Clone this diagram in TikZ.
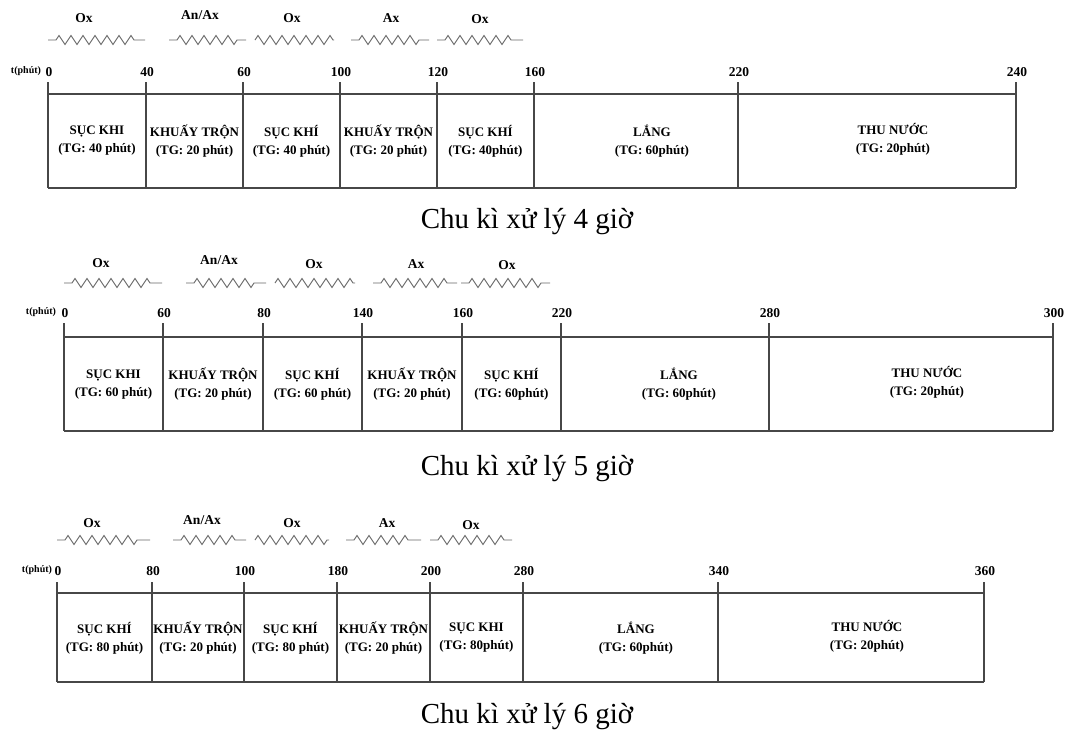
\documentclass[tikz,border=0pt]{standalone}
\usepackage{fontspec}
\setmainfont{Liberation Serif}
\usetikzlibrary{decorations.pathmorphing}
\tikzset{
  frame/.style={draw=black!72, line width=1.7pt},
  ticklbl/.style={font=\bfseries\fontsize{13.5}{14}\selectfont, inner sep=0pt},
  tlbl/.style={font=\bfseries\fontsize{10}{11}\selectfont, inner sep=0pt},
  boxtxt/.style={font=\bfseries\fontsize{13}{18}\selectfont, align=center, inner sep=0pt},
  zlbl/.style={font=\bfseries\fontsize{13.5}{14}\selectfont, inner sep=0pt},
  caption/.style={font=\fontsize{29}{32}\selectfont, inner sep=0pt},
  zz/.style={draw=black!60, line width=0.9pt, decorate,
    decoration={zigzag, segment length=12pt, amplitude=4.5pt, pre length=#1, post length=#1}},
  zz/.default=0pt
}
\begin{document}
\begin{tikzpicture}[x=1pt,y=-1pt]
\useasboundingbox (0,0) rectangle (1066,734);

% ================= Panel 1 =================
\foreach \x/\t [count=\i] in {48/0,146/40,243/60,340/100,437/120,534/160,738/220,1016/240} {
  \coordinate (pa\i) at (\x,82);
  \coordinate (pb\i) at (\x,188);
  \draw[frame] (pa\i) -- (pb\i);
  \node[ticklbl] (pl\i) at (\x+1,72) {\t};
}
\coordinate (pA) at (48,94); \coordinate (pB) at (1016,94);
\draw[frame] (pA) -- (pB);
\draw[frame] (pb1) -- (pb8);
\node[tlbl] (pt) at (26,71) {t(phút)};
\node[boxtxt] (pc1) at (97,141) {SỤC KHI\\(TG: 40 phút)};
\node[boxtxt] (pc2) at (194.5,141) {KHUẤY TRỘN\\(TG: 20 phút)};
\node[boxtxt] (pc3) at (291.5,141) {SỤC KHÍ\\(TG: 40 phút)};
\node[boxtxt] (pc4) at (388.5,141) {KHUẤY TRỘN\\(TG: 20 phút)};
\node[boxtxt] (pc5) at (485.5,141) {SỤC KHÍ\\(TG: 40phút)};
\node[boxtxt] (pc6) at (652,141) {LẮNG\\(TG: 60phút)};
\node[boxtxt] (pc7) at (893,139) {THU NƯỚC\\(TG: 20phút)};
\coordinate (pz1a) at (48,40);  \coordinate (pz1b) at (145,40);
\coordinate (pz2a) at (169,40); \coordinate (pz2b) at (246,40);
\coordinate (pz3a) at (255,40); \coordinate (pz3b) at (334,40);
\coordinate (pz4a) at (351,40); \coordinate (pz4b) at (429,40);
\coordinate (pz5a) at (437,40); \coordinate (pz5b) at (523,40);
\draw[zz=8pt] (pz1a) -- (pz1b);
\draw[zz=8pt] (pz2a) -- (pz2b);
\draw[zz] (pz3a) -- (pz3b);
\draw[zz=8pt] (pz4a) -- (pz4b);
\draw[zz=8pt] (pz5a) -- (pz5b);
\node[zlbl] (pk1) at (84,18) {Ox};
\node[zlbl] (pk2) at (200,15) {An/Ax};
\node[zlbl] (pk3) at (292,18) {Ox};
\node[zlbl] (pk4) at (391,18) {Ax};
\node[zlbl] (pk5) at (480,19) {Ox};
\node[caption] (pcap) at (527,222) {Chu kì xử lý 4 giờ};

% ================= Panel 2 =================
\foreach \x/\t [count=\i] in {64/0,163/60,263/80,362/140,462/160,561/220,769/280,1053/300} {
  \coordinate (qa\i) at (\x,323);
  \coordinate (qb\i) at (\x,431);
  \draw[frame] (qa\i) -- (qb\i);
  \node[ticklbl] (ql\i) at (\x+1,313) {\t};
}
\coordinate (qA) at (64,337); \coordinate (qB) at (1053,337);
\draw[frame] (qA) -- (qB);
\draw[frame] (qb1) -- (qb8);
\node[tlbl] (qt) at (41,312) {t(phút)};
\node[boxtxt] (qc1) at (113.5,384.5) {SỤC KHI\\(TG: 60 phút)};
\node[boxtxt] (qc2) at (213,384.5) {KHUẤY TRỘN\\(TG: 20 phút)};
\node[boxtxt] (qc3) at (312.5,384.5) {SỤC KHÍ\\(TG: 60 phút)};
\node[boxtxt] (qc4) at (412,384.5) {KHUẤY TRỘN\\(TG: 20 phút)};
\node[boxtxt] (qc5) at (511.5,384.5) {SỤC KHÍ\\(TG: 60phút)};
\node[boxtxt] (qc6) at (679,384.5) {LẮNG\\(TG: 60phút)};
\node[boxtxt] (qc7) at (927,382.5) {THU NƯỚC\\(TG: 20phút)};
\coordinate (qz1a) at (64,283);  \coordinate (qz1b) at (162,283);
\coordinate (qz2a) at (186,283); \coordinate (qz2b) at (266,283);
\coordinate (qz3a) at (275,283); \coordinate (qz3b) at (355,283);
\coordinate (qz4a) at (373,283); \coordinate (qz4b) at (457,283);
\coordinate (qz5a) at (461,283); \coordinate (qz5b) at (550,283);
\draw[zz=8pt] (qz1a) -- (qz1b);
\draw[zz=8pt] (qz2a) -- (qz2b);
\draw[zz] (qz3a) -- (qz3b);
\draw[zz=8pt] (qz4a) -- (qz4b);
\draw[zz=8pt] (qz5a) -- (qz5b);
\node[zlbl] (qk1) at (101,263) {Ox};
\node[zlbl] (qk2) at (219,260) {An/Ax};
\node[zlbl] (qk3) at (314,264) {Ox};
\node[zlbl] (qk4) at (416,264) {Ax};
\node[zlbl] (qk5) at (507,265) {Ox};
\node[caption] (qcap) at (527,469) {Chu kì xử lý 5 giờ};

% ================= Panel 3 =================
\foreach \x/\t [count=\i] in {57/0,152/80,244/100,337/180,430/200,523/280,718/340,984/360} {
  \coordinate (ra\i) at (\x,582);
  \coordinate (rb\i) at (\x,682);
  \draw[frame] (ra\i) -- (rb\i);
  \node[ticklbl] (rl\i) at (\x+1,571) {\t};
}
\coordinate (rA) at (57,593); \coordinate (rB) at (984,593);
\draw[frame] (rA) -- (rB);
\draw[frame] (rb1) -- (rb8);
\node[tlbl] (rt) at (37,570) {t(phút)};
\node[boxtxt] (rc1) at (104.5,638) {SỤC KHÍ\\(TG: 80 phút)};
\node[boxtxt] (rc2) at (198,638) {KHUẤY TRỘN\\(TG: 20 phút)};
\node[boxtxt] (rc3) at (290.5,638) {SỤC KHÍ\\(TG: 80 phút)};
\node[boxtxt] (rc4) at (383.5,638) {KHUẤY TRỘN\\(TG: 20 phút)};
\node[boxtxt] (rc5) at (476.5,638) {SỤC KHI\\(TG: 80phút)};
\node[boxtxt] (rc6) at (636,638) {LẮNG\\(TG: 60phút)};
\node[boxtxt] (rc7) at (867,636) {THU NƯỚC\\(TG: 20phút)};
\coordinate (rz1a) at (57,540);  \coordinate (rz1b) at (150,540);
\coordinate (rz2a) at (173,540); \coordinate (rz2b) at (246,540);
\coordinate (rz3a) at (255,540); \coordinate (rz3b) at (329,540);
\coordinate (rz4a) at (346,540); \coordinate (rz4b) at (421,540);
\coordinate (rz5a) at (430,540); \coordinate (rz5b) at (512,540);
\draw[zz=8pt] (rz1a) -- (rz1b);
\draw[zz=8pt] (rz2a) -- (rz2b);
\draw[zz] (rz3a) -- (rz3b);
\draw[zz=8pt] (rz4a) -- (rz4b);
\draw[zz=8pt] (rz5a) -- (rz5b);
\node[zlbl] (rk1) at (92,523) {Ox};
\node[zlbl] (rk2) at (202,520) {An/Ax};
\node[zlbl] (rk3) at (292,523) {Ox};
\node[zlbl] (rk4) at (387,523) {Ax};
\node[zlbl] (rk5) at (471,525) {Ox};
\node[caption] (rcap) at (527,717) {Chu kì xử lý 6 giờ};
\end{tikzpicture}
\end{document}
